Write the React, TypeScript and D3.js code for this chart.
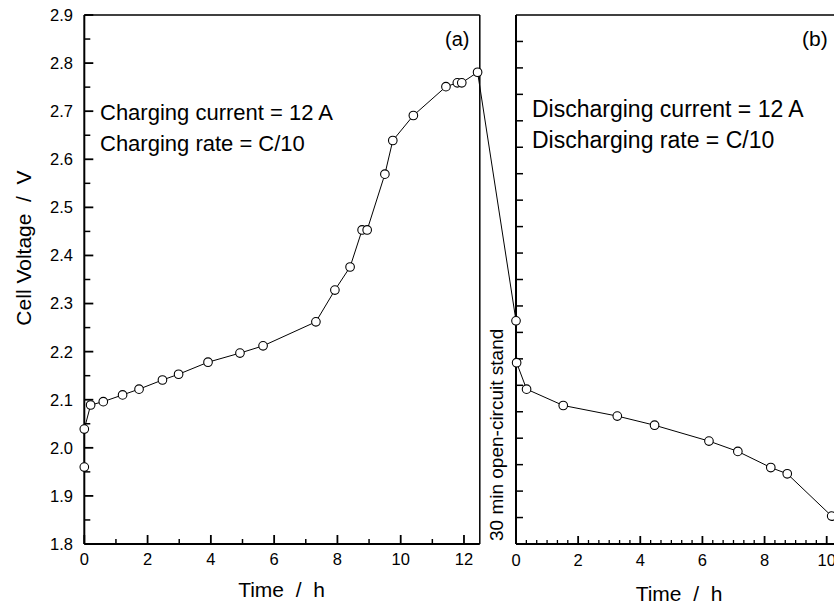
import React from 'react';
import * as d3 from 'd3';

const chargeTime = [0, 0, 0.2, 0.6, 1.21, 1.73, 2.47, 2.98, 3.91, 4.92, 5.65, 7.32, 7.92, 8.4, 8.78, 8.94, 9.5, 9.75, 10.4, 11.43, 11.79, 11.93, 12.43];
const chargeVoltage = [1.96, 2.039, 2.089, 2.096, 2.11, 2.122, 2.141, 2.153, 2.178, 2.197, 2.212, 2.262, 2.328, 2.376, 2.453, 2.453, 2.569, 2.639, 2.691, 2.751, 2.759, 2.759, 2.781];
const dischargeTime = [0, 0.02, 0.34, 1.52, 3.26, 4.46, 6.21, 7.14, 8.2, 8.73, 10.16];
const dischargeVoltage = [2.264, 2.177, 2.122, 2.088, 2.066, 2.047, 2.014, 1.9925, 1.959, 1.946, 1.858];
const voltageTicks = [1.8, 1.9, 2.0, 2.1, 2.2, 2.3, 2.4, 2.5, 2.6, 2.7, 2.8, 2.9];
const chargeTimeTicks = [0, 2, 4, 6, 8, 10, 12];
const dischargeTimeTicks = [0, 2, 4, 6, 8, 10];

const FONT = '"Liberation Sans", Arial, Helvetica, sans-serif';

export default function App() {
  const W = 834, H = 605;
  const top = 15, bottom = 544;
  const y = d3.scaleLinear().domain([1.8, 2.9]).range([bottom, top]);
  const xA = d3.scaleLinear().domain([0, 12.5]).range([84.3, 479.8]);
  const xB = d3.scaleLinear().domain([0, 11]).range([516, 516 + 11 * 31.07]);
  const yB = d3.scaleLinear().domain([0, 20]).range([bottom, top]);

  const pts: [number, number][] = [
    ...chargeTime.map((t, i) => [xA(t), y(chargeVoltage[i])] as [number, number]),
    ...dischargeTime.map((t, i) => [xB(t), y(dischargeVoltage[i])] as [number, number]),
  ];
  const line = d3.line();

  const yMinor = d3.range(1.85, 2.9, 0.1);
  const xAMinor = d3.range(1, 12.5, 2);
  const xBMinor = d3.range(0, 11, 1 / 3).filter((v) => Math.abs(v / 2 - Math.round(v / 2)) > 0.01);
  const yBTicks = d3.range(1, 20);

  const axisStroke = 2;

  return (
    <svg width={W} height={H} style={{ position: 'absolute', left: 0, top: 0, background: '#fff' }} fontFamily={FONT}>
      <rect x={0} y={0} width={W} height={H} fill="#fff" />
      {/* Panel (a) frame */}
      <line x1={xA(0)} x2={xA(0)} y1={top} y2={bottom} stroke="#000" strokeWidth={axisStroke} />
      <line x1={xA(0)} x2={xA(12.5)} y1={bottom} y2={bottom} stroke="#000" strokeWidth={axisStroke} />
      <line x1={xA(0)} x2={xA(12.5)} y1={top} y2={top} stroke="#000" strokeWidth={1.5} />
      <line x1={xA(12.5)} x2={xA(12.5)} y1={top} y2={bottom} stroke="#000" strokeWidth={1.5} />

      {/* Panel (a) y ticks */}
      {voltageTicks.map((v) => (
        <g key={'yt' + v}>
          <line x1={xA(0)} x2={xA(0) + 9} y1={y(v)} y2={y(v)} stroke="#000" strokeWidth={1.8} />
          <text x={73} y={y(v)} dy="0.36em" textAnchor="end" fontSize={16.5}>{v.toFixed(1)}</text>
        </g>
      ))}
      {yMinor.map((v) => (
        <line key={'ym' + v} x1={xA(0)} x2={xA(0) + 6} y1={y(v)} y2={y(v)} stroke="#000" strokeWidth={1.5} />
      ))}
      {/* Panel (a) x ticks */}
      {chargeTimeTicks.map((t) => (
        <g key={'xa' + t}>
          <line x1={xA(t)} x2={xA(t)} y1={bottom} y2={bottom - 9} stroke="#000" strokeWidth={1.8} />
          <text x={xA(t)} y={565} textAnchor="middle" fontSize={16.5}>{t}</text>
        </g>
      ))}
      {xAMinor.map((t) => (
        <line key={'xam' + t} x1={xA(t)} x2={xA(t)} y1={bottom} y2={bottom - 5} stroke="#000" strokeWidth={1.5} />
      ))}

      {/* Panel (b) frame */}
      <line x1={xB(0)} x2={xB(0)} y1={top} y2={bottom} stroke="#000" strokeWidth={axisStroke} />
      <line x1={xB(0)} x2={xB(11)} y1={bottom} y2={bottom} stroke="#000" strokeWidth={axisStroke} />
      <line x1={xB(0)} x2={xB(11)} y1={top} y2={top} stroke="#000" strokeWidth={1.5} />
      {yBTicks.map((k) => (
        <line key={'ybt' + k} x1={xB(0)} x2={xB(0) + 7} y1={yB(k)} y2={yB(k)} stroke="#000" strokeWidth={1.5} />
      ))}
      {dischargeTimeTicks.map((t) => (
        <g key={'xb' + t}>
          <line x1={xB(t)} x2={xB(t)} y1={bottom} y2={bottom - 8} stroke="#000" strokeWidth={1.8} />
          <text x={xB(t)} y={566} textAnchor="middle" fontSize={16.5}>{t}</text>
        </g>
      ))}
      {xBMinor.map((t) => (
        <line key={'xbm' + t} x1={xB(t)} x2={xB(t)} y1={bottom} y2={bottom - 4} stroke="#000" strokeWidth={1.3} />
      ))}

      {/* Data line & markers */}
      <path d={line(pts) || ''} fill="none" stroke="#000" strokeWidth={1} />
      {pts.map(([px, py], i) => (
        <circle key={'p' + i} cx={px} cy={py} r={4.3} fill="#fff" stroke="#000" strokeWidth={1.1} />
      ))}

      {/* Texts */}
      <text x={100} y={120} fontSize={22}>Charging current = 12 A</text>
      <text x={100} y={151} fontSize={22}>Charging rate = C/10</text>
      <text x={532} y={117} fontSize={23}>Discharging current = 12 A</text>
      <text x={532} y={148} fontSize={23}>Discharging rate = C/10</text>
      <text x={445} y={46} fontSize={20}>(a)</text>
      <text x={802} y={46} fontSize={21}>(b)</text>
      <text transform="translate(503,541) rotate(-90)" fontSize={19}>30 min open-circuit stand</text>
      <text transform="translate(31,248) rotate(-90)" textAnchor="middle" fontSize={21} style={{ whiteSpace: 'pre' }}>{'Cell Voltage  /  V'}</text>
      <text x={281.5} y={597} textAnchor="middle" fontSize={21} style={{ whiteSpace: 'pre' }}>{'Time  /  h'}</text>
      <text x={679} y={601} textAnchor="middle" fontSize={21} style={{ whiteSpace: 'pre' }}>{'Time  /  h'}</text>
    </svg>
  );
}
